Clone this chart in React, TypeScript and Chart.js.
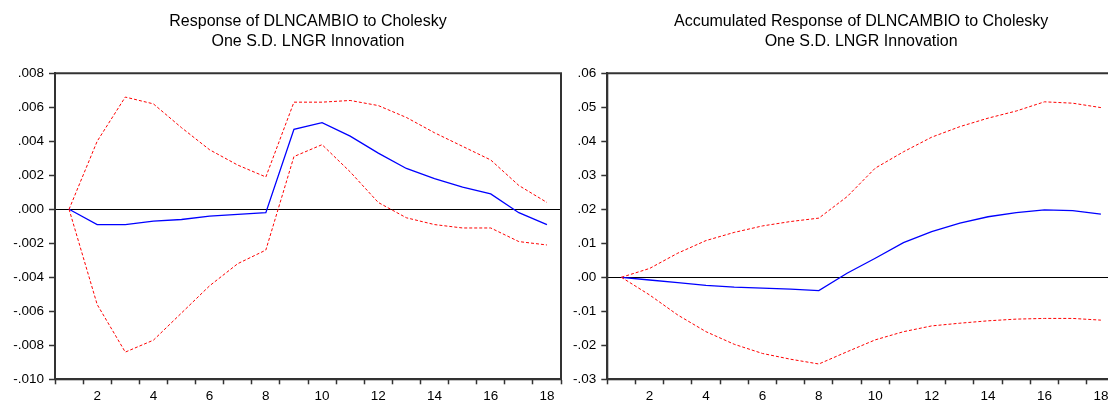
import React, { useEffect, useRef } from "react";
import { Chart, registerables } from "chart.js";

Chart.register(...registerables);

// ---------- data ----------
const periods = ["1", "2", "3", "4", "5", "6", "7", "8", "9", "10", "11", "12", "13", "14", "15", "16", "17", "18"];

// Response of DLNCAMBIO to Cholesky One S.D. LNGR Innovation
const irfResponse = [0, -0.0009, -0.0009, -0.0007, -0.0006, -0.0004, -0.0003, -0.0002, 0.0047, 0.0051, 0.0043, 0.0033, 0.0024, 0.0018, 0.0013, 0.0009, -0.0002, -0.0009];
const irfUpper = [0, 0.004, 0.0066, 0.0062, 0.0048, 0.0035, 0.0026, 0.0019, 0.0063, 0.0063, 0.0064, 0.0061, 0.0054, 0.0045, 0.0037, 0.0029, 0.0014, 0.0004];
const irfLower = [0, -0.0056, -0.0084, -0.0077, -0.0061, -0.0045, -0.0032, -0.0024, 0.0031, 0.0038, 0.0022, 0.0004, -0.0005, -0.0009, -0.0011, -0.0011, -0.0019, -0.0021];

// Accumulated Response of DLNCAMBIO to Cholesky One S.D. LNGR Innovation
const accResponse = [0, -0.0008, -0.0016, -0.0024, -0.0029, -0.0032, -0.0035, -0.0039, 0.0012, 0.0056, 0.0102, 0.0134, 0.0159, 0.0178, 0.019, 0.0198, 0.0196, 0.0186];
const accUpper = [0, 0.0026, 0.0071, 0.0108, 0.0132, 0.0151, 0.0164, 0.0174, 0.0237, 0.0321, 0.0369, 0.0412, 0.0443, 0.0468, 0.0489, 0.0516, 0.0512, 0.0499];
const accLower = [0, -0.0052, -0.0111, -0.016, -0.0197, -0.0224, -0.0241, -0.0255, -0.0219, -0.0184, -0.016, -0.0143, -0.0135, -0.0128, -0.0123, -0.0121, -0.0121, -0.0126];

const irfTitle = ["Response of DLNCAMBIO to Cholesky", "One S.D. LNGR Innovation"];
const accTitle = ["Accumulated Response of DLNCAMBIO to Cholesky", "One S.D. LNGR Innovation"];

const irfYRange = [-0.01, 0.008];
const irfYStep = 0.002;
const irfYDecimals = 3;
const accYRange = [-0.03, 0.06];
const accYStep = 0.01;
const accYDecimals = 2;

// ---------- styling ----------
const FONT = "'Liberation Sans', Arial, Helvetica, sans-serif";
const AXIS = "#333333";

const framePlugin = {
  id: "frameBox",
  afterDatasetsDraw(chart: any) {
    const { ctx, chartArea: a } = chart;
    ctx.save();
    ctx.strokeStyle = AXIS;
    ctx.lineWidth = 2;
    ctx.strokeRect(a.left, a.top, a.right - a.left, a.bottom - a.top);
    ctx.restore();
  },
};

function fmt(v: number, d: number) {
  const s = Number(v).toFixed(d);
  return s.replace(/^(-?)0\./, "$1.").replace(/^-(\.0+)$/, "$1");
}

type PanelProps = {
  left: number;
  width: number;
  yAxisWidth: number;
  padRight: number;
  title: string[];
  response: number[];
  upper: number[];
  lower: number[];
  yRange: number[];
  yStep: number;
  decimals: number;
};

function Panel(p: PanelProps) {
  const ref = useRef<HTMLCanvasElement>(null);
  useEffect(() => {
    if (!ref.current) return;
    const chart = new Chart(ref.current, {
      type: "line",
      data: {
        labels: periods,
        datasets: [
          { data: p.upper, borderColor: "#ff0000", borderWidth: 1, borderDash: [3, 2], pointRadius: 0, tension: 0, fill: false },
          { data: p.lower, borderColor: "#ff0000", borderWidth: 1, borderDash: [3, 2], pointRadius: 0, tension: 0, fill: false },
          { data: p.response, borderColor: "#0000ff", borderWidth: 1.3, pointRadius: 0, tension: 0, fill: false },
        ],
      },
      options: {
        responsive: false,
        animation: false,
        devicePixelRatio: 1,
        layout: { padding: { top: 0, left: 0, right: p.padRight, bottom: 0 } },
        plugins: {
          legend: { display: false },
          tooltip: { enabled: false },
          title: {
            display: true,
            text: p.title,
            fullSize: false,
            color: "#000",
            font: { family: FONT, size: 16, weight: "normal", lineHeight: 1.23 },
            padding: { top: 12.2, bottom: 21.7 },
          },
        },
        scales: {
          x: {
            type: "category",
            offset: true,
            afterFit: (s: any) => {
              s.height = 21.7;
            },
            grid: { offset: true, drawOnChartArea: false, drawTicks: true, tickLength: 5, tickColor: AXIS, tickWidth: 1.5 },
            border: { display: true, color: AXIS, width: 2 },
            ticks: {
              autoSkip: false,
              maxRotation: 0,
              color: "#000",
              padding: 4,
              font: { family: FONT, size: 13.5 },
              callback: (_v: any, i: number) => ((i + 1) % 2 === 0 ? periods[i] : ""),
            },
          },
          y: {
            min: p.yRange[0],
            max: p.yRange[1],
            afterFit: (s: any) => {
              s.width = p.yAxisWidth;
            },
            grid: {
              drawOnChartArea: true,
              drawTicks: true,
              tickLength: 6,
              tickColor: AXIS,
              tickWidth: 1.5,
              lineWidth: 1,
              color: (c: any) => (c.tick && Math.abs(c.tick.value) < 1e-9 ? "#000" : "rgba(0,0,0,0)"),
            },
            border: { display: true, color: AXIS, width: 2 },
            ticks: {
              stepSize: p.yStep,
              color: "#000",
              padding: 5,
              font: { family: FONT, size: 13.5 },
              callback: (v: any) => fmt(Number(v), p.decimals),
            },
          },
        },
      },
      plugins: [framePlugin],
    } as any);
    return () => chart.destroy();
  }, []);
  return (
    <canvas
      ref={ref}
      width={p.width}
      height={401}
      style={{ position: "absolute", left: p.left, top: 0, width: p.width, height: 401 }}
    />
  );
}

export default function App() {
  return (
    <div style={{ position: "fixed", left: 0, top: 0, width: 1108, height: 401, overflow: "hidden", background: "#fff" }}>
      <Panel
        left={0}
        width={565}
        yAxisWidth={55}
        padRight={4}
        title={irfTitle}
        response={irfResponse}
        upper={irfUpper}
        lower={irfLower}
        yRange={irfYRange}
        yStep={irfYStep}
        decimals={irfYDecimals}
      />
      <Panel
        left={560}
        width={570}
        yAxisWidth={47.3}
        padRight={15}
        title={accTitle}
        response={accResponse}
        upper={accUpper}
        lower={accLower}
        yRange={accYRange}
        yStep={accYStep}
        decimals={accYDecimals}
      />
    </div>
  );
}
